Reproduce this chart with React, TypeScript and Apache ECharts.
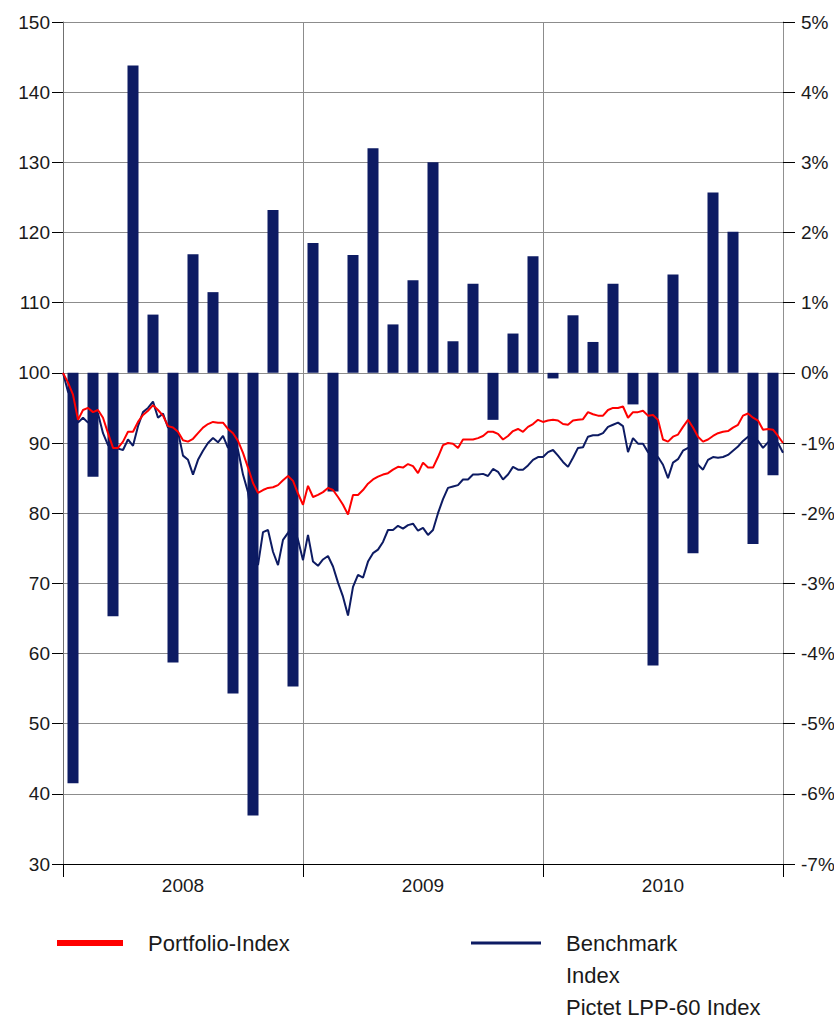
import React, { useEffect, useRef } from "react";
import * as echarts from "echarts";

// ---- data ----
const years = ["2008", "2009", "2010"];
const monthNames = ["Jan", "Feb", "Mar", "Apr", "May", "Jun", "Jul", "Aug", "Sep", "Oct", "Nov", "Dec"];
const months = years.flatMap((y) => monthNames.map((m) => `${m} ${y}`));

// monthly relative performance (%), right axis
const monthlyReturns = [
  -5.85, -1.48, -3.47, 4.38, 0.83, -4.13, 1.69, 1.15, -4.57, -6.31, 2.32, -4.47,
  1.85, -1.69, 1.68, 3.2, 0.69, 1.32, 3.0, 0.45, 1.27, -0.67, 0.56, 1.66,
  -0.08, 0.82, 0.44, 1.27, -0.45, -4.17, 1.4, -2.57, 2.57, 2.01, -2.44, -1.46,
];

// index values, sampled four times per month (left axis)
const portfolioIndex = [
  100, 98.6, 96.9, 93.3, 94.7, 95.0, 94.4, 94.7, 93.6, 91.4,
  89.3, 89.3, 90.2, 91.6, 91.6, 93.0, 94.0, 94.6, 95.4, 94.7,
  93.9, 92.4, 92.2, 91.6, 90.4, 90.2, 90.6, 91.4, 92.2, 92.7,
  93.0, 92.9, 92.9, 92.0, 91.4, 90.3, 88.6, 86.5, 84.3, 82.9,
  83.3, 83.6, 83.7, 84.0, 84.7, 85.3, 84.6, 82.8, 81.2, 83.9,
  82.3, 82.6, 83.0, 83.6, 83.3, 82.3, 81.2, 79.8, 82.6, 82.6,
  83.3, 84.2, 84.8, 85.2, 85.5, 85.7, 86.2, 86.6, 86.5, 87.0,
  86.7, 85.7, 87.2, 86.5, 86.5, 88.0, 89.7, 90.0, 89.9, 89.3,
  90.5, 90.5, 90.5, 90.7, 91.0, 91.6, 91.6, 91.3, 90.5, 91.0,
  91.7, 92.0, 91.6, 92.3, 92.7, 93.3, 93.0, 93.2, 93.3, 93.2,
  92.7, 92.6, 93.2, 93.3, 93.4, 94.4, 94.1, 93.9, 93.9, 94.7,
  95.0, 95.0, 95.2, 93.6, 94.4, 94.4, 94.6, 93.9, 94.0, 93.3,
  90.5, 90.2, 90.9, 91.2, 92.3, 93.3, 92.2, 90.9, 90.2, 90.5,
  91.0, 91.4, 91.6, 91.7, 92.2, 92.6, 93.9, 94.2, 93.6, 93.2,
  91.9, 92.0, 91.9, 91.0, 90.0,
];

const benchmarkIndex = [
  100, 97.3, 96.2, 92.9, 93.6, 92.9, 94.0, 94.2, 91.4, 89.7,
  89.0, 89.2, 89.0, 90.5, 89.6, 92.4, 94.4, 95.0, 95.9, 93.6,
  94.2, 92.2, 92.3, 91.6, 88.2, 87.6, 85.5, 87.6, 88.9, 90.0,
  90.7, 90.1, 91.0, 89.3, 90.5, 89.0, 85.5, 83.0, 77.6, 72.6,
  77.3, 77.6, 74.5, 72.6, 76.2, 77.2, 78.3, 76.2, 73.3, 76.9,
  73.1, 72.5, 73.4, 73.9, 72.4, 70.1, 68.1, 65.4, 69.5, 71.2,
  70.8, 73.1, 74.3, 74.8, 75.9, 77.6, 77.6, 78.2, 77.8, 78.3,
  78.5, 77.5, 77.9, 76.9, 77.6, 80.0, 82.0, 83.6, 83.8, 84.0,
  84.8, 84.8, 85.5, 85.5, 85.6, 85.3, 86.3, 85.9, 84.8, 85.5,
  86.6, 86.2, 86.2, 86.8, 87.6, 88.0, 88.0, 88.7, 89.0, 88.2,
  87.3, 86.6, 87.9, 89.3, 89.4, 90.9, 91.1, 91.1, 91.4, 92.3,
  92.6, 92.9, 92.4, 88.7, 90.7, 89.9, 89.9, 88.7, 88.0, 88.0,
  86.9, 85.0, 87.2, 87.7, 88.9, 89.3, 88.3, 86.9, 86.2, 87.6,
  88.0, 87.9, 88.0, 88.3, 88.9, 89.5, 90.3, 90.9, 90.7, 90.3,
  89.3, 90.1, 90.5, 90.0, 88.6,
];

const leftTicks = { min: 30, max: 150, interval: 10 };
const rightTicks = { min: -7, max: 5, interval: 1 };

const PORTFOLIO = "Portfolio-Index";
const BENCHMARK = "Benchmark Index Pictet LPP-60 Index";

const FONT = '"Liberation Sans Narrow", "Arial Narrow", "Liberation Sans", Arial, sans-serif';
const NAVY = "#0d1b63";
const RED = "#ff0000";
const GRID = "#8c8c8c";
const TEXT = "#1a1a1a";

export default function App() {
  const ref = useRef<HTMLDivElement>(null);

  useEffect(() => {
    if (!ref.current) return;
    const chart = echarts.init(ref.current, null, { renderer: "svg" });
    const steps = portfolioIndex.length - 1;
    chart.setOption({
      animation: false,
      backgroundColor: "#ffffff",
      textStyle: { fontFamily: FONT },
      grid: { left: 63, right: 51, top: 22, bottom: 158, containLabel: false, outerBoundsMode: "none" },
      xAxis: [
        { type: "category", data: months, show: false, boundaryGap: true },
        {
          type: "category",
          data: years,
          position: "bottom",
          boundaryGap: true,
          axisLine: { show: true, lineStyle: { color: "#000", width: 1 } },
          axisTick: { show: true, length: 13, interval: 0, lineStyle: { color: "#000" } },
          axisLabel: { color: TEXT, fontSize: 19, fontFamily: FONT, margin: 12 },
          splitLine: { show: true, interval: 0, lineStyle: { color: GRID, width: 1 } },
        },
        { type: "value", min: 0, max: steps, show: false },
      ],
      yAxis: [
        {
          type: "value",
          position: "left",
          ...leftTicks,
          axisLine: { show: true, lineStyle: { color: "#707070" } },
          axisTick: { show: true, length: 11, lineStyle: { color: "#000" } },
          axisLabel: { color: TEXT, fontSize: 19, fontFamily: FONT, margin: 13 },
          splitLine: { show: true, lineStyle: { color: GRID, width: 1 } },
        },
        {
          type: "value",
          position: "right",
          ...rightTicks,
          axisLine: { show: true, lineStyle: { color: "#909090" } },
          axisTick: { show: true, length: 12, lineStyle: { color: "#000" } },
          axisLabel: { color: TEXT, fontSize: 19, fontFamily: FONT, margin: 18, formatter: (v: number) => `${v}%` },
          splitLine: { show: false },
        },
      ],
      legend: [
        {
          data: [{ name: PORTFOLIO, icon: "rect" }],
          left: 57,
          top: 932,
          padding: 0,
          itemWidth: 66,
          itemHeight: 6,
          selectedMode: false,
          textStyle: { color: TEXT, fontSize: 22, fontFamily: FONT, padding: [0, 0, 0, 20] },
        },
        {
          data: [{ name: BENCHMARK, icon: "rect" }],
          left: 471,
          top: 863,
          padding: 0,
          itemWidth: 70,
          itemHeight: 3,
          selectedMode: false,
          formatter: () => "\n\nBenchmark\nIndex\nPictet LPP-60 Index",
          textStyle: { color: TEXT, fontSize: 22, lineHeight: 32, fontFamily: FONT, padding: [0, 0, 0, 20] },
        },
      ],
      series: [
        {
          name: "Monthly relative performance",
          type: "bar",
          xAxisIndex: 0,
          yAxisIndex: 1,
          data: monthlyReturns,
          barWidth: 11,
          itemStyle: { color: NAVY },
        },
        {
          name: BENCHMARK,
          type: "line",
          xAxisIndex: 2,
          yAxisIndex: 0,
          data: benchmarkIndex.map((v, i) => [i, v]),
          showSymbol: false,
          symbol: "none",
          lineStyle: { color: NAVY, width: 2 },
          itemStyle: { color: NAVY },
        },
        {
          name: PORTFOLIO,
          type: "line",
          xAxisIndex: 2,
          yAxisIndex: 0,
          data: portfolioIndex.map((v, i) => [i, v]),
          showSymbol: false,
          symbol: "none",
          lineStyle: { color: RED, width: 2 },
          itemStyle: { color: RED },
        },
      ],
    });
    return () => chart.dispose();
  }, []);

  return (
    <div
      ref={ref}
      style={{ position: "absolute", left: 0, top: 0, width: 834, height: 1022, background: "#fff" }}
    />
  );
}
